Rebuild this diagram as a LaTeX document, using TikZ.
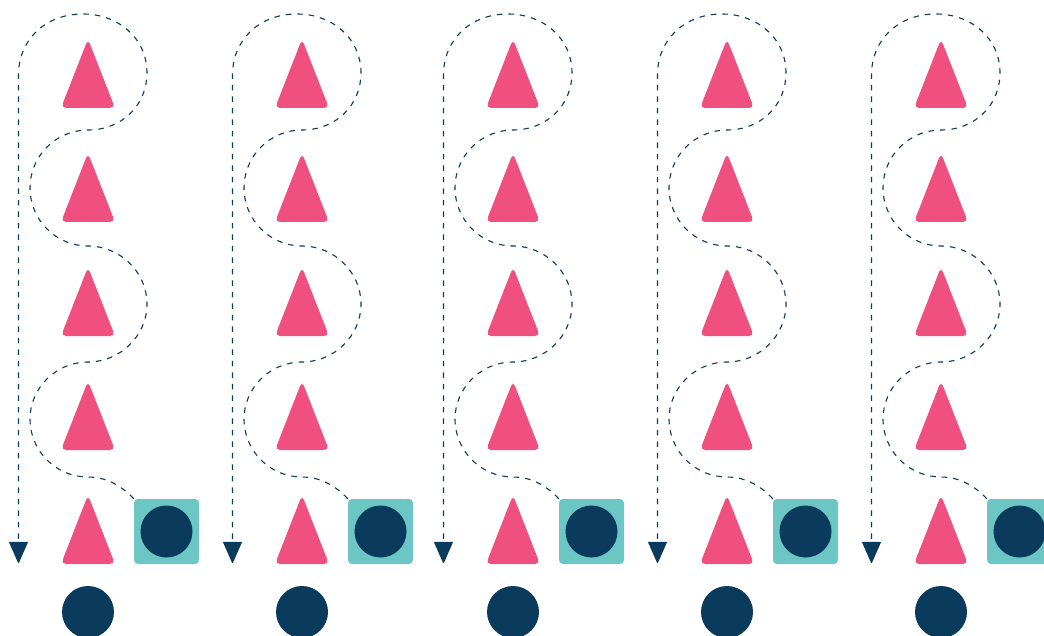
\documentclass[tikz,border=0pt]{standalone}
\usetikzlibrary{arrows.meta}
\definecolor{conepink}{HTML}{F05080}
\definecolor{tealbox}{HTML}{6CC6C3}
\definecolor{navy}{HTML}{0A3A5C}
\tikzset{
  cone/.style={fill=conepink, rounded corners=5pt},
  ballbox/.style={draw=none, fill=tealbox, rounded corners=4pt, minimum size=65pt, inner sep=0pt},
  ball/.style={circle, fill=navy, minimum size=52pt, inner sep=0pt},
  route/.style={navy, line width=1.1pt, dash pattern=on 5.5pt off 6pt,
    -{Triangle[length=22pt,width=19pt,round]}}
}
\begin{document}
\begin{tikzpicture}[x=1pt,y=-1pt]
\clip (0,0) rectangle (1044,636);
\fill[white] (0,0) rectangle (1044,636);
\foreach \dx [count=\i] in {0,214,425,639,853}{
  \begin{scope}[xshift=\dx pt]
    % column of cones
    \foreach \k in {0,...,4}{
      \fill[cone] (88,108+114*\k) -- (115,108+114*\k) -- (88,39+114*\k)
        -- (61,108+114*\k) -- cycle;
    }
    \node[ballbox] (sq\i) at (166.5,531.5) {};
    \node[ball] (in\i) at (sq\i.center) {};
    \node[ball] (low\i) at (88,612) {};
    \coordinate (tip\i) at (18.5,563);
    % weaving route from the box back to the start line
    \draw[route] (sq\i.north west)
      .. controls (118,482) and (102,477) .. (88,477)
      .. controls (56,477) and (30,451) .. (30,419)
      .. controls (30,388) and (56,362) .. (88,362)
      .. controls (120,362) and (147,336) .. (147,304)
      .. controls (147,272) and (120,246) .. (88,246)
      .. controls (56,246) and (30,220) .. (30,188)
      .. controls (30,156) and (56,130) .. (88,130)
      .. controls (122,130) and (147,105) .. (147,73)
      .. controls (147,38) and (118,14) .. (83,14)
      .. controls (45,14) and (18.5,40) .. (18.5,75)
      -- (tip\i);
  \end{scope}
}
\end{tikzpicture}
\end{document}
